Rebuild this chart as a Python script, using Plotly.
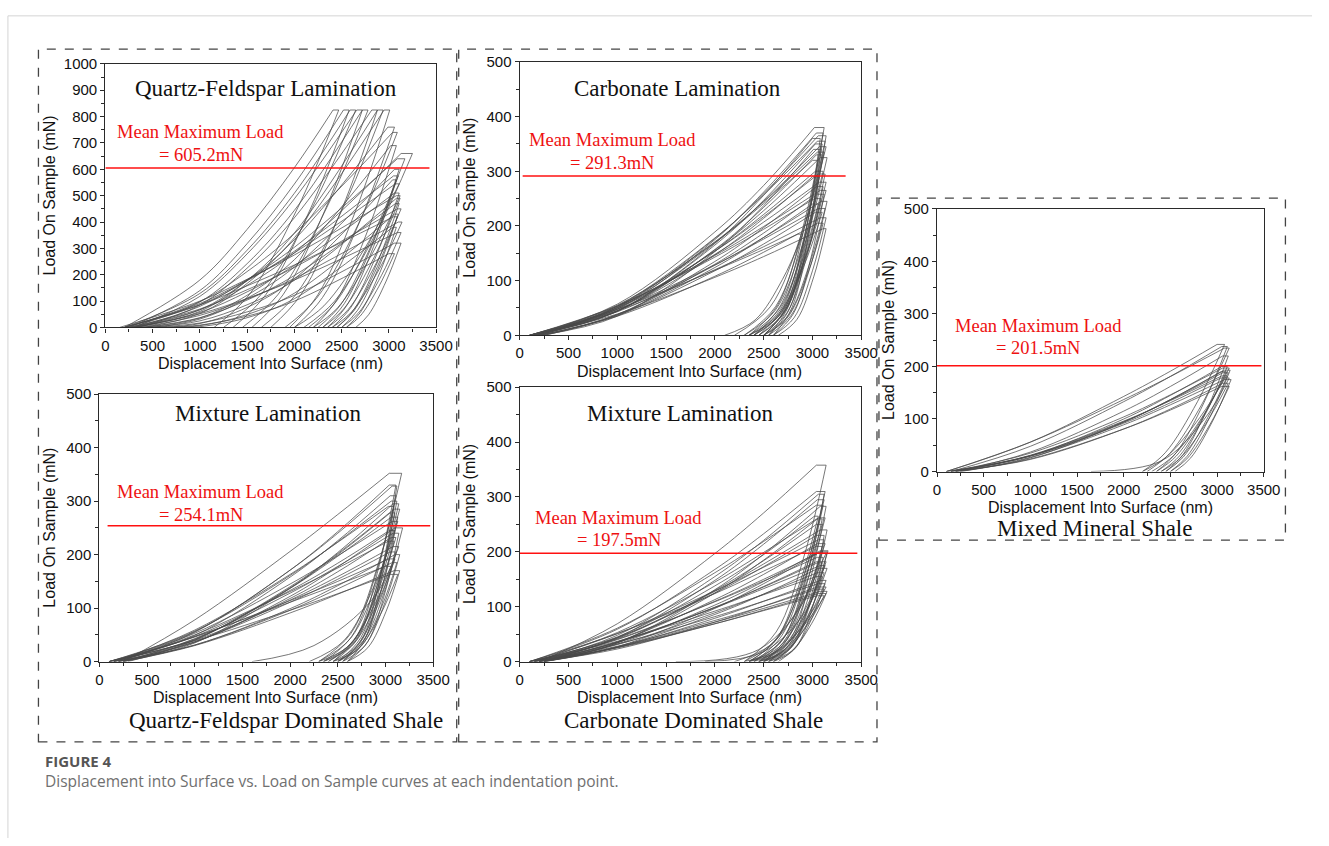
import plotly.graph_objects as go

W, H = 1329, 846

# Displacements (nm) at which the loading branch is read
GRID_QF = [1000, 1500, 2000]
GRID = [1000, 2000, 2500]

# One row per indentation:
# [h0, load@g1, load@g2, load@g3, hmax, Pmax, hold_end, h_u1, P_u1, h_u2, P_u2, h_final]
qf_lam = [
    [200, 180, 372, 606, 2410, 825, 2470, 2036, 454, 1522, 124, 1150],
    [250, 140, 318, 544, 2520, 825, 2580, 2175, 454, 1697, 124, 1350],
    [200, 129, 293, 509, 2590, 825, 2650, 2189, 454, 1645, 124, 1250],
    [300, 118, 279, 488, 2660, 825, 2720, 2335, 454, 1880, 124, 1550],
    [250, 97, 242, 444, 2720, 825, 2780, 2342, 454, 1825, 124, 1450],
    [350, 85, 225, 416, 2820, 825, 2880, 2508, 454, 2069, 124, 1750],
    [300, 61, 178, 358, 2880, 825, 2940, 2516, 454, 2014, 124, 1650],
    [400, 53, 167, 340, 2950, 825, 3010, 2661, 454, 2249, 124, 1950],
    [300, 67, 178, 333, 2990, 760, 3060, 2711, 418, 2299, 114, 2000],
    [200, 98, 212, 357, 3040, 740, 3090, 2698, 407, 2236, 111, 1900],
    [400, 36, 122, 257, 3020, 690, 3080, 2790, 380, 2448, 104, 2200],
    [250, 67, 160, 283, 3130, 660, 3250, 2872, 363, 2424, 99, 2100],
    [300, 80, 181, 304, 3090, 640, 3170, 2834, 352, 2438, 96, 2150],
    [500, 32, 111, 229, 3060, 600, 3110, 2844, 330, 2528, 90, 2300],
    [200, 86, 177, 289, 3050, 575, 3100, 2820, 316, 2490, 86, 2250],
    [600, 15, 76, 184, 3040, 560, 3080, 2840, 308, 2556, 84, 2350],
    [200, 91, 180, 283, 3070, 545, 3110, 2745, 300, 2313, 82, 2000],
    [300, 57, 135, 235, 3060, 510, 3110, 2876, 280, 2600, 77, 2400],
    [150, 100, 183, 275, 3080, 500, 3120, 2817, 275, 2459, 75, 2200],
    [450, 25, 86, 179, 3080, 490, 3120, 2850, 270, 2531, 74, 2300],
    [400, 37, 104, 197, 3070, 470, 3110, 2893, 259, 2636, 71, 2450],
    [250, 70, 143, 228, 3090, 450, 3130, 2873, 248, 2570, 68, 2350],
    [700, 7, 49, 130, 3060, 430, 3100, 2903, 237, 2669, 65, 2500],
    [200, 86, 158, 237, 3050, 420, 3090, 2879, 231, 2630, 63, 2450],
    [350, 46, 108, 186, 3100, 400, 3140, 2897, 220, 2609, 60, 2400],
    [800, 3, 37, 109, 3040, 380, 3080, 2906, 209, 2699, 57, 2550],
    [300, 52, 110, 180, 3090, 360, 3130, 2923, 198, 2677, 54, 2500],
    [500, 17, 59, 122, 3060, 320, 3130, 2972, 176, 2785, 48, 2650],
    [600, 9, 43, 100, 3000, 280, 3060, 2892, 154, 2694, 42, 2550],
]

carb_lam = [
    [100, 57, 189, 274, 3020, 380, 3120, 2933, 209, 2681, 57, 2400],
    [120, 48, 175, 262, 3040, 370, 3110, 2912, 204, 2646, 56, 2350],
    [150, 51, 177, 259, 3060, 365, 3140, 2974, 201, 2750, 55, 2500],
    [100, 44, 168, 256, 3000, 360, 3080, 2942, 198, 2757, 54, 2550],
    [200, 53, 178, 257, 3050, 355, 3130, 2914, 195, 2624, 53, 2300],
    [150, 44, 165, 247, 3030, 350, 3100, 2931, 193, 2704, 53, 2450],
    [100, 51, 169, 245, 3070, 345, 3140, 2896, 190, 2567, 52, 2200],
    [200, 35, 153, 237, 3010, 340, 3090, 2963, 187, 2791, 51, 2600],
    [150, 53, 171, 244, 3050, 335, 3120, 2933, 184, 2681, 50, 2400],
    [100, 44, 157, 234, 3040, 330, 3100, 2944, 182, 2734, 50, 2500],
    [150, 45, 156, 228, 3080, 325, 3150, 2942, 179, 2662, 49, 2350],
    [100, 55, 170, 241, 3000, 320, 3060, 2914, 176, 2718, 48, 2500],
    [150, 48, 154, 221, 3030, 300, 3110, 2899, 165, 2616, 45, 2300],
    [200, 50, 154, 217, 3060, 295, 3130, 2953, 162, 2715, 44, 2450],
    [100, 45, 147, 214, 3000, 290, 3070, 2935, 160, 2753, 44, 2550],
    [150, 50, 148, 207, 3070, 280, 3140, 2948, 154, 2689, 42, 2400],
    [250, 38, 135, 197, 3040, 272, 3110, 2951, 150, 2738, 41, 2500],
    [150, 53, 146, 199, 3080, 265, 3140, 2935, 146, 2658, 40, 2350],
    [200, 38, 130, 187, 3050, 258, 3120, 2985, 142, 2803, 39, 2600],
    [100, 54, 143, 194, 3020, 250, 3090, 2924, 138, 2700, 38, 2450],
    [150, 43, 128, 179, 3090, 245, 3150, 2994, 135, 2784, 37, 2550],
    [200, 37, 124, 179, 3000, 240, 3060, 2888, 132, 2657, 36, 2400],
    [150, 47, 129, 176, 3060, 232, 3130, 2966, 128, 2746, 35, 2500],
    [250, 36, 118, 167, 3030, 225, 3100, 2905, 124, 2643, 34, 2350],
    [100, 45, 120, 162, 3080, 215, 3140, 3000, 118, 2811, 32, 2600],
    [200, 35, 108, 152, 3050, 205, 3110, 2951, 113, 2738, 31, 2500],
    [150, 39, 106, 144, 3110, 195, 3140, 3013, 107, 2841, 29, 2650],
    [100, 48, 119, 157, 2850, 185, 2900, 2692, 102, 2412, 28, 2100],
]

qf_mix = [
    [250, 78, 206, 275, 3040, 352, 3170, 2944, 194, 2639, 53, 2300],
    [100, 56, 171, 243, 3040, 330, 3110, 2938, 182, 2707, 50, 2450],
    [200, 55, 171, 240, 3070, 328, 3120, 2972, 180, 2772, 49, 2550],
    [150, 49, 158, 226, 3050, 310, 3110, 2912, 171, 2646, 47, 2350],
    [100, 57, 161, 224, 3060, 300, 3120, 2959, 165, 2742, 45, 2500],
    [250, 35, 137, 204, 3080, 295, 3140, 2948, 162, 2689, 44, 2400],
    [150, 59, 163, 223, 3030, 290, 3090, 2963, 160, 2791, 44, 2600],
    [200, 41, 140, 202, 3090, 285, 3150, 2929, 157, 2632, 43, 2300],
    [100, 42, 138, 200, 3050, 278, 3100, 2931, 153, 2704, 42, 2450],
    [300, 40, 137, 197, 3060, 270, 3130, 2979, 149, 2776, 41, 2550],
    [150, 53, 145, 198, 3070, 262, 3130, 2888, 144, 2563, 39, 2200],
    [200, 36, 122, 177, 3100, 250, 3180, 3003, 138, 2765, 38, 2500],
    [100, 47, 133, 184, 3040, 245, 3100, 2918, 135, 2673, 37, 2400],
    [250, 43, 128, 178, 3080, 240, 3140, 3000, 132, 2811, 36, 2600],
    [150, 37, 118, 168, 3060, 232, 3110, 2912, 128, 2646, 35, 2350],
    [200, 50, 131, 175, 3030, 225, 3090, 2937, 124, 2730, 34, 2500],
    [100, 40, 115, 159, 3080, 215, 3140, 2870, 118, 2250, 30, 1600],
    [250, 37, 111, 154, 3050, 205, 3110, 2938, 113, 2707, 31, 2450],
    [150, 31, 99, 142, 3100, 200, 3150, 2994, 110, 2784, 30, 2550],
    [100, 46, 114, 150, 3040, 192, 3100, 2905, 106, 2643, 29, 2350],
    [200, 31, 96, 136, 3070, 185, 3120, 2959, 102, 2742, 28, 2500],
    [150, 47, 111, 144, 3000, 178, 3060, 2862, 98, 2596, 27, 2300],
    [250, 30, 91, 126, 3090, 170, 3150, 3007, 94, 2815, 26, 2600],
    [100, 39, 96, 127, 3050, 163, 3130, 2953, 90, 2715, 24, 2450],
]

carb_mix = [
    [200, 69, 197, 271, 3040, 358, 3140, 2922, 197, 2628, 54, 2300],
    [100, 59, 168, 233, 3040, 310, 3130, 2940, 171, 2685, 47, 2400],
    [150, 48, 155, 221, 3060, 305, 3120, 2959, 168, 2742, 46, 2500],
    [200, 44, 148, 214, 3050, 295, 3120, 2920, 162, 2650, 44, 2350],
    [100, 61, 162, 219, 3040, 285, 3110, 2938, 157, 2707, 43, 2450],
    [250, 34, 131, 196, 3080, 283, 3140, 2987, 156, 2780, 42, 2550],
    [150, 53, 145, 199, 3060, 262, 3130, 2940, 144, 2685, 39, 2400],
    [200, 34, 125, 185, 3050, 260, 3100, 2944, 143, 2734, 39, 2500],
    [100, 42, 130, 184, 3040, 250, 3100, 2892, 138, 2612, 38, 2300],
    [250, 43, 128, 178, 3080, 240, 3150, 3007, 132, 2815, 36, 2600],
    [150, 51, 129, 172, 3060, 222, 3120, 2946, 122, 2711, 33, 2450],
    [200, 36, 113, 159, 3050, 215, 3130, 2927, 118, 2654, 32, 2350],
    [100, 51, 124, 165, 3040, 210, 3100, 2957, 116, 2765, 32, 2550],
    [250, 32, 103, 146, 3080, 202, 3160, 2988, 111, 2757, 30, 2500],
    [150, 40, 110, 150, 3060, 198, 3140, 2896, 109, 2567, 30, 2200],
    [200, 41, 109, 147, 3050, 190, 3110, 2977, 105, 2799, 29, 2600],
    [100, 35, 99, 137, 3040, 182, 3140, 2961, 100, 2719, 27, 2450],
    [250, 36, 98, 133, 3080, 175, 3130, 2927, 96, 2654, 26, 2350],
    [150, 27, 86, 123, 3060, 170, 3150, 2981, 94, 2754, 26, 2500],
    [200, 31, 89, 123, 3050, 162, 3120, 2972, 89, 2772, 24, 2550],
    [100, 37, 92, 122, 3040, 155, 3100, 2918, 85, 2673, 23, 2400],
    [250, 26, 79, 110, 3080, 148, 3140, 2961, 81, 2719, 22, 2450],
    [150, 32, 82, 110, 3060, 142, 3130, 2992, 78, 2807, 21, 2600],
    [200, 23, 72, 101, 3050, 136, 3140, 2935, 75, 2658, 20, 2350],
    [100, 28, 75, 101, 3040, 132, 3120, 2959, 73, 2742, 20, 2500],
    [250, 26, 72, 97, 3080, 128, 3150, 2994, 70, 2784, 19, 2550],
    [150, 25, 69, 94, 3060, 124, 3140, 2922, 68, 2628, 19, 2300],
    [200, 26, 69, 93, 3050, 120, 3120, 2946, 66, 2711, 18, 2450],
    [100, 44, 125, 173, 3040, 230, 3120, 2960, 125, 2450, 22, 1600],
    [200, 35, 99, 136, 3050, 180, 3100, 2940, 95, 2500, 18, 1900],
    [100, 45, 138, 195, 3020, 265, 3060, 2875, 146, 2627, 40, 2350],
    [250, 27, 97, 142, 3080, 200, 3150, 3020, 110, 2845, 30, 2650],
]

mixed = [
    [100, 56, 143, 191, 3000, 242, 3080, 2790, 133, 2446, 36, 2200],
    [150, 48, 133, 181, 3050, 238, 3110, 2859, 131, 2563, 36, 2350],
    [100, 56, 137, 181, 3080, 235, 3130, 2840, 129, 2496, 35, 2250],
    [200, 37, 115, 162, 3060, 220, 3120, 2899, 121, 2638, 33, 2450],
    [200, 30, 100, 145, 3050, 200, 3110, 2876, 110, 2599, 30, 2400],
    [150, 35, 104, 146, 3060, 197, 3130, 2856, 108, 2532, 30, 2300],
    [250, 26, 94, 137, 3080, 193, 3140, 2929, 106, 2679, 29, 2500],
    [100, 29, 94, 137, 3040, 190, 3100, 2853, 105, 2560, 29, 2350],
    [150, 30, 95, 136, 3060, 188, 3120, 2816, 103, 2458, 28, 2200],
    [200, 31, 96, 135, 3050, 182, 3110, 2892, 100, 2635, 27, 2450],
    [100, 30, 92, 131, 3040, 178, 3130, 2856, 98, 2400, 20, 1650],
    [250, 27, 89, 127, 3080, 175, 3150, 2952, 96, 2718, 26, 2550],
    [150, 23, 81, 119, 3060, 168, 3120, 2882, 92, 2602, 25, 2400],
    [200, 24, 81, 117, 3050, 162, 3130, 2922, 89, 2676, 24, 2500],
]

mean_loads = [605.2, 291.3, 254.1, 197.5, 201.5]
mean_labels = ["= 605.2mN", "= 291.3mN", "= 254.1mN", "= 197.5mN", "= 201.5mN"]
mean_line_x = [[0, 3430], [30, 3340], [85, 3470], [0, 3460], [0, 3475]]
panel_titles = ["Quartz-Feldspar Lamination", "Carbonate Lamination",
                "Mixture Lamination", "Mixture Lamination", ""]
y_max = [1000, 500, 500, 500, 500]

# pixel boxes of the plot areas: (left, right, top, bottom)
boxes = [(103, 439, 56, 325), (524, 871, 54, 333), (97, 436, 393, 666),
         (524, 871, 386, 666), (948, 1280, 204, 472)]
datasets = [(qf_lam, GRID_QF), (carb_lam, GRID), (qf_mix, GRID), (carb_mix, GRID), (mixed, GRID)]


def px(x):
    return x / W


def py(y):
    return 1 - y / H


def curves_xy(rows, grid):
    xs, ys = [], []
    for r in rows:
        h0, p1, p2, p3, hm, pm, hh, hu1, pu1, hu2, pu2, hf = r
        xs += [h0, grid[0], grid[1], grid[2], hm, None, hm, hh, None, hh, hu1, hu2, hf, None]
        ys += [0, p1, p2, p3, pm, None, pm, pm, None, pm, pu1, pu2, 0, None]
    return xs, ys


fig = go.Figure()
layout = dict(width=W, height=H, margin=dict(l=0, r=0, t=0, b=0),
              paper_bgcolor="white", plot_bgcolor="white", showlegend=False)

axis_font = dict(family="Liberation Sans, Arial", size=15, color="#111")
for i, ((rows, grid), (l, r, t, b)) in enumerate(zip(datasets, boxes)):
    k = i + 1
    xs, ys = curves_xy(rows, grid)
    fig.add_trace(go.Scatter(x=xs, y=ys, mode="lines", xaxis=f"x{k}", yaxis=f"y{k}",
                             line=dict(color="#4a4a4a", width=0.75, shape="spline", smoothing=1),
                             hoverinfo="skip", connectgaps=False))
    fig.add_trace(go.Scatter(x=mean_line_x[i], y=[mean_loads[i]] * 2, mode="lines",
                             xaxis=f"x{k}", yaxis=f"y{k}",
                             line=dict(color="#ff1010", width=1.5), hoverinfo="skip"))
    common = dict(showline=True, linecolor="#2a2a2a", linewidth=1.3, mirror=True,
                  showgrid=False, zeroline=False, ticks="outside", ticklen=4,
                  tickcolor="#2a2a2a", tickwidth=1.2, tickfont=axis_font)
    layout[f"xaxis{k}"] = dict(domain=[px(l), px(r)], anchor=f"y{k}", range=[0, 3500],
                               tick0=0, dtick=500,
                               minor=dict(dtick=250, ticklen=3, ticks="outside", tickcolor="#2a2a2a"),
                               **common)
    ym = y_max[i]
    layout[f"yaxis{k}"] = dict(domain=[py(b), py(t)], anchor=f"x{k}", range=[0, ym],
                               tick0=0, dtick=100,
                               minor=dict(dtick=50, ticklen=3, ticks="outside", tickcolor="#2a2a2a"),
                               **common)

annotations = []
serif = "Liberation Serif, Times New Roman"
sans = "Liberation Sans, Arial"


def ann(text, x, y, size, color="#111", family=serif, xanchor="center", angle=0):
    annotations.append(dict(text=text, x=px(x), y=py(y), xref="paper", yref="paper",
                            showarrow=False, xanchor=xanchor, yanchor="middle",
                            textangle=angle, font=dict(family=family, size=size, color=color)))


title_pos = [(266, 81), (684, 81), (268, 413), (687, 413)]
for i, (x, y) in enumerate(title_pos):
    ann(panel_titles[i], x, y, 23)

mean_pos = [((113, 126), (155, 149)), ((531, 134), (573, 157)), ((113, 493), (155, 516)),
            ((538, 519), (580, 542)), ((964, 323), (1006, 346))]
for i, ((x1, y1), (x2, y2)) in enumerate(mean_pos):
    ann("Mean Maximum Load", x1, y1, 18.5, color="#ee1111", xanchor="left")
    ann(mean_labels[i], x2, y2, 18.5, color="#ee1111", xanchor="left")

xt_pos = [(271, 362), (697, 370), (266, 703), (697, 703), (1114, 509)]
yt_pos = [(46, 190), (473, 193), (46, 529), (473, 526), (898, 338)]
for (x, y) in xt_pos:
    ann("Displacement Into Surface (nm)", x, y, 16, family=sans)
for (x, y) in yt_pos:
    ann("Load On Sample (mN)", x, y, 16, family=sans, angle=-90)

ann("Quartz-Feldspar Dominated Shale", 287, 726, 23)
ann("Carbonate Dominated Shale", 701, 726, 23)
ann("Mixed Mineral Shale", 1108, 530, 23)

ann("<b>FIGURE 4</b>", 40, 767, 15, color="#555555", family="Open Sans", xanchor="left")
ann("Displacement into Surface vs. Load on Sample curves at each indentation point.",
    40, 788, 15.5, color="#707070", family="Open Sans", xanchor="left")

shapes = []
for (x0, x1, y0, y1) in [(35, 460, 41, 748), (462, 887, 41, 748), (889, 1302, 193, 542)]:
    shapes.append(dict(type="rect", xref="paper", yref="paper", x0=px(x0), x1=px(x1),
                       y0=py(y1), y1=py(y0), line=dict(color="#444", width=1.3, dash="dash")))
shapes.append(dict(type="line", xref="paper", yref="paper", x0=px(4), x1=1, y0=py(7), y1=py(7),
                   line=dict(color="#d4d4d4", width=1)))
shapes.append(dict(type="line", xref="paper", yref="paper", x0=px(4), x1=px(4), y0=0, y1=py(7),
                   line=dict(color="#d4d4d4", width=1)))

layout["annotations"] = annotations
layout["shapes"] = shapes
fig.update_layout(**layout)
fig.write_html("out.html")
